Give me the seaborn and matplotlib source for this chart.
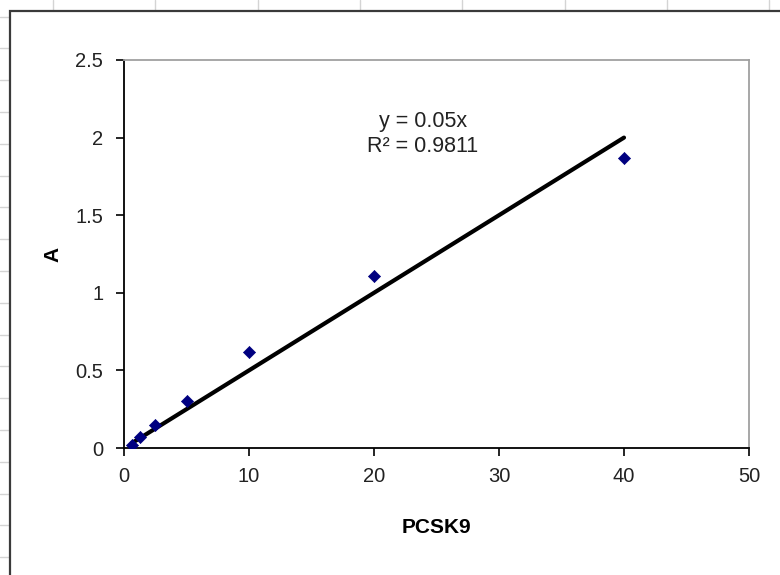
import matplotlib
matplotlib.use("Agg")
import matplotlib.pyplot as plt
from matplotlib.lines import Line2D
from matplotlib.patches import Rectangle
import seaborn as sns
import pandas as pd

# ---- data ----
pcsk9 = [0.625, 1.25, 2.5, 5, 10, 20, 40]
absorbance = [0.02, 0.07, 0.15, 0.30, 0.62, 1.11, 1.87]
slope = 0.05
r_squared = 0.9811
x_ticks = [0, 10, 20, 30, 40, 50]
y_ticks = [0, 0.5, 1, 1.5, 2, 2.5]
y_tick_labels = ["0", "0.5", "1", "1.5", "2", "2.5"]

df = pd.DataFrame({"PCSK9": pcsk9, "A": absorbance})
trend = pd.DataFrame({"PCSK9": [min(pcsk9), max(pcsk9)]})
trend["A"] = slope * trend["PCSK9"]

sns.set_theme(style="white")
plt.rcParams["font.family"] = ["Liberation Sans", "DejaVu Sans"]

W, H = 780, 575
fig = plt.figure(figsize=(W / 100, H / 100), dpi=100)
fig.patch.set_facecolor("white")

def fx(px):
    return px / W

def fy(py):
    return 1 - py / H

# spreadsheet grid in the background
grid_c = "#d4d4d4"
for gx in [53, 155, 258, 360, 462, 565, 667, 769]:
    fig.add_artist(Line2D([fx(gx), fx(gx)], [0, 1], color=grid_c, lw=1, zorder=-3))
gy = 16.5
while gy < H:
    fig.add_artist(Line2D([0, 1], [fy(gy), fy(gy)], color=grid_c, lw=1, zorder=-3))
    gy += 31.8

# chart frame
fig.add_artist(Rectangle((fx(10), -0.05), 1.2, fy(11) + 0.05, transform=fig.transFigure,
                         facecolor="white", edgecolor="#3a3a3a", lw=1.6, zorder=-2))

ax = fig.add_axes([fx(124), fy(448), fx(749) - fx(124), fy(60) - fy(448)])
ax.set_facecolor("white")

sns.lineplot(data=trend, x="PCSK9", y="A", ax=ax, color="black", lw=3, zorder=2)
sns.scatterplot(data=df, x="PCSK9", y="A", ax=ax, marker="D", s=38,
                color="#000080", edgecolor="#000080", zorder=3)

ax.set_xlim(0, 50)
ax.set_ylim(0, 2.5)
ax.set_xticks(x_ticks)
ax.set_xticklabels([str(t) for t in x_ticks])
ax.set_yticks(y_ticks)
ax.set_yticklabels(y_tick_labels)

for side in ["left", "bottom"]:
    ax.spines[side].set_color("black")
    ax.spines[side].set_linewidth(1.3)
for side in ["top", "right"]:
    ax.spines[side].set_visible(True)
    ax.spines[side].set_color("#a0a0a0")
    ax.spines[side].set_linewidth(1.3)

ax.tick_params(axis="both", which="major", direction="out", length=6, width=1.2,
               color="black", labelsize=14.5, labelcolor="#222222",
               bottom=True, left=True)
ax.tick_params(axis="y", pad=9)
ax.tick_params(axis="x", pad=8)

ax.set_xlabel("PCSK9", fontsize=15, fontweight="bold", labelpad=23, color="black")
ax.set_ylabel("A", fontsize=15, fontweight="bold", labelpad=9, color="black")

ax.text(23.9, 2.02, f"y = {slope}x\nR² = {r_squared}", ha="center", va="center",
        fontsize=15.5, color="#222222", linespacing=1.25)

fig.savefig("out.png", dpi=100)
